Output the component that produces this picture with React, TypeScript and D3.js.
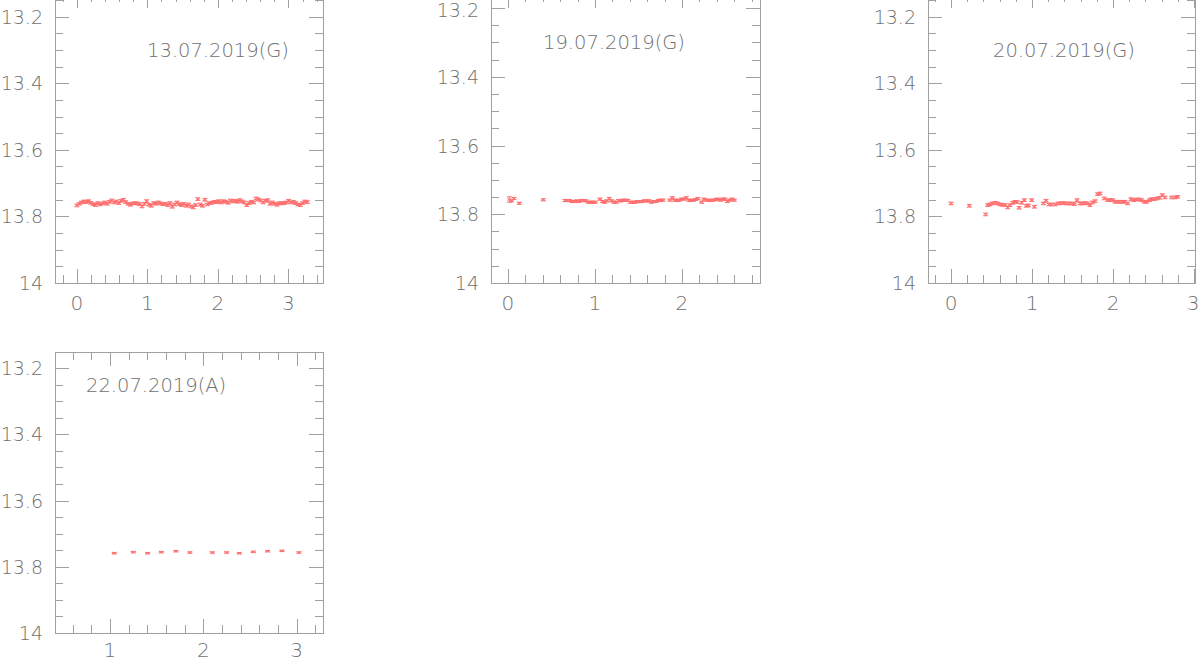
import React from 'react';
import * as d3 from 'd3';

// ---------------- data ----------------
const p1X = [0, 0.033, 0.066, 0.099, 0.132, 0.165, 0.198, 0.231, 0.264, 0.297,
  0.33, 0.363, 0.396, 0.429, 0.462, 0.495, 0.528, 0.561, 0.594, 0.627,
  0.66, 0.693, 0.726, 0.759, 0.792, 0.825, 0.858, 0.891, 0.924, 0.957,
  0.99, 1.023, 1.056, 1.089, 1.122, 1.155, 1.188, 1.221, 1.254, 1.287,
  1.32, 1.353, 1.386, 1.419, 1.452, 1.485, 1.518, 1.551, 1.584, 1.617,
  1.65, 1.683, 1.716, 1.749, 1.782, 1.815, 1.848, 1.881, 1.914, 1.947,
  1.98, 2.013, 2.046, 2.079, 2.112, 2.145, 2.178, 2.211, 2.244, 2.277,
  2.31, 2.343, 2.376, 2.409, 2.442, 2.475, 2.508, 2.541, 2.574, 2.607,
  2.64, 2.673, 2.706, 2.739, 2.772, 2.805, 2.838, 2.871, 2.904, 2.937,
  2.97, 3.003, 3.036, 3.069, 3.102, 3.135, 3.168, 3.201, 3.234, 3.267];
const p1Y = [13.767, 13.762, 13.758, 13.755, 13.757, 13.754, 13.759, 13.763, 13.766, 13.760,
  13.764, 13.761, 13.758, 13.762, 13.756, 13.752, 13.758, 13.755, 13.760, 13.753,
  13.750, 13.757, 13.762, 13.765, 13.761, 13.760, 13.761, 13.763, 13.770, 13.762,
  13.754, 13.765, 13.768, 13.760, 13.762, 13.758, 13.761, 13.763, 13.762, 13.766,
  13.760, 13.771, 13.764, 13.758, 13.763, 13.766, 13.762, 13.768, 13.764, 13.770,
  13.773, 13.766, 13.748, 13.764, 13.768, 13.750, 13.764, 13.760, 13.759, 13.756,
  13.757, 13.754, 13.758, 13.754, 13.756, 13.759, 13.752, 13.755, 13.753, 13.756,
  13.751, 13.755, 13.758, 13.766, 13.760, 13.756, 13.758, 13.746, 13.749, 13.752,
  13.758, 13.753, 13.751, 13.762, 13.758, 13.762, 13.765, 13.760, 13.761, 13.760,
  13.758, 13.753, 13.758, 13.756, 13.760, 13.764, 13.766, 13.760, 13.755, 13.757];
const p1Err = [0.004];

const p2X = [0.015, 0.042, 0.069, 0.13, 0.406,
  0.655, 0.682, 0.709, 0.736, 0.762, 0.789, 0.816, 0.843, 0.87, 0.897, 0.923, 0.95, 0.977, 1.004,
  1.057, 1.084, 1.111, 1.138, 1.165, 1.192, 1.218, 1.245, 1.272, 1.299,
  1.326, 1.352, 1.379, 1.406, 1.433, 1.46, 1.487, 1.513, 1.54, 1.567,
  1.594, 1.621, 1.648, 1.674, 1.701, 1.728, 1.755, 1.782,
  1.862, 1.889, 1.916, 1.943, 1.969, 1.996, 2.023, 2.05, 2.077, 2.103,
  2.13, 2.157, 2.184, 2.226, 2.253, 2.28, 2.307, 2.333, 2.36, 2.387,
  2.414, 2.441, 2.468, 2.494, 2.521, 2.548, 2.575, 2.602];
const p2Y = [13.757, 13.761, 13.754, 13.768, 13.758,
  13.760, 13.760, 13.760, 13.763, 13.763, 13.761, 13.763, 13.760, 13.760, 13.761, 13.765, 13.765, 13.765, 13.765,
  13.756, 13.763, 13.765, 13.761, 13.754, 13.761, 13.765, 13.765, 13.760, 13.761,
  13.759, 13.759, 13.760, 13.765, 13.765, 13.765, 13.763, 13.763, 13.763, 13.761,
  13.761, 13.761, 13.765, 13.763, 13.763, 13.760, 13.759, 13.759,
  13.759, 13.752, 13.759, 13.760, 13.759, 13.756, 13.756, 13.752, 13.759, 13.760,
  13.759, 13.757, 13.754, 13.765, 13.756, 13.759, 13.759, 13.760, 13.759, 13.757,
  13.756, 13.759, 13.756, 13.756, 13.763, 13.759, 13.756, 13.759];
const p2Err = [0.008, 0.003];

const p3X = [0, 0.226, 0.428, 0.453, 0.481, 0.51, 0.543, 0.576, 0.605, 0.634,
  0.667, 0.7, 0.728, 0.761, 0.79, 0.815, 0.84, 0.872, 0.905, 0.93,
  0.955, 0.996, 1.029, 1.14, 1.173, 1.21, 1.243, 1.284, 1.325, 1.358,
  1.391, 1.424, 1.457, 1.49, 1.523, 1.556, 1.593, 1.621, 1.654, 1.687,
  1.716, 1.745, 1.778, 1.811, 1.84, 1.893, 1.934, 1.963, 1.996, 2.025,
  2.058, 2.086, 2.119, 2.148, 2.181, 2.222, 2.255, 2.288, 2.321, 2.354,
  2.387, 2.416, 2.449, 2.477, 2.51, 2.543, 2.576, 2.609, 2.642, 2.724,
  2.765, 2.798];
const p3Y = [13.761, 13.768, 13.794, 13.766, 13.764, 13.761, 13.759, 13.761, 13.764, 13.765,
  13.766, 13.773, 13.766, 13.759, 13.756, 13.757, 13.774, 13.759, 13.751, 13.768,
  13.767, 13.751, 13.771, 13.761, 13.753, 13.764, 13.764, 13.764, 13.761, 13.760,
  13.760, 13.761, 13.761, 13.761, 13.763, 13.751, 13.761, 13.761, 13.760, 13.761,
  13.766, 13.758, 13.754, 13.733, 13.731, 13.746, 13.751, 13.751, 13.751, 13.756,
  13.756, 13.756, 13.756, 13.756, 13.761, 13.748, 13.751, 13.749, 13.749, 13.751,
  13.756, 13.756, 13.751, 13.748, 13.748, 13.746, 13.744, 13.736, 13.743, 13.743,
  13.743, 13.741];
const p3Err = [0.004];

const p4X = [1.046, 1.25, 1.404, 1.55, 1.707, 1.857, 2.097, 2.25, 2.386, 2.536, 2.69, 2.843, 3.025];
const p4Y = [13.759, 13.756, 13.759, 13.756, 13.753, 13.757, 13.757, 13.757, 13.759, 13.755, 13.753, 13.752, 13.757];
const p4Err = [0.002];

const panelTitles = ['13.07.2019(G)', '19.07.2019(G)', '20.07.2019(G)', '22.07.2019(A)'];
const yTickValues = [13.2, 13.4, 13.6, 13.8, 14];
const yTickLabels = ['13.2', '13.4', '13.6', '13.8', '14'];
const xTickValues = [0, 1, 2, 3];
const xTickLabels = ['0', '1', '2', '3'];

// ---------------- style ----------------
const FRAME = '#a0a0a0';
const TEXT = '#6f6f6f';
const RED = '#ff6b6b';
const FONT = '"DejaVu Sans", "Liberation Sans", sans-serif';

type Layout = {
  left: number; right: number; top: number; bottom: number;
  xDomain: [number, number]; yTop: number; // pixel of 13.2
  titleX: number; titleY: number;
};

const layouts: Layout[] = [
  { left: 55, right: 323, top: -6, bottom: 283, xDomain: [-0.31, 3.49], yTop: 16.7, titleX: 147, titleY: 57 },
  { left: 491, right: 760, top: -6, bottom: 283, xDomain: [-0.195, 2.897], yTop: 8, titleX: 543, titleY: 49 },
  { left: 928, right: 1195, top: -6, bottom: 283, xDomain: [-0.284, 3.012], yTop: 16.7, titleX: 993, titleY: 57 },
  { left: 55, right: 323, top: 352, bottom: 633, xDomain: [0.411, 3.283], yTop: 368, titleX: 86, titleY: 392 },
];

const series = [
  { xs: p1X, ys: p1Y, err: p1Err },
  { xs: p2X, ys: p2Y, err: p2Err },
  { xs: p3X, ys: p3Y, err: p3Err },
  { xs: p4X, ys: p4Y, err: p4Err },
];

function Panel({ L, s, title }: { L: Layout; s: { xs: number[]; ys: number[]; err: number[] }; title: string }) {
  const x = d3.scaleLinear().domain(L.xDomain).range([L.left, L.right]);
  const y = d3.scaleLinear().domain([13.2, 14]).range([L.yTop, L.bottom]);
  const yMinor = d3.range(250, 281).map((i) => i / 20).filter((v) => y(v) > L.top + 0.5 && y(v) < L.bottom - 0.5);
  const xMinor = d3.range(-10, 25).map((i) => i / 5).filter((v) => x(v) > L.left + 0.5 && x(v) < L.right - 0.5);
  const isMajorY = (v: number) => Math.abs(v * 5 - Math.round(v * 5)) < 1e-6;
  const isMajorX = (v: number) => Math.abs(v - Math.round(v)) < 1e-6;
  const MAJ = 14, MIN = 8;
  const n = Math.min(s.xs.length, s.ys.length);
  const pts = d3.range(n).map((i) => ({ x: s.xs[i], y: s.ys[i], e: i === 0 ? s.err[0] : s.err[s.err.length - 1] }));
  return (
    <g>
      <rect x={L.left + 0.5} y={L.top + 0.5} width={L.right - L.left} height={L.bottom - L.top} fill="none" stroke={FRAME} strokeWidth={1} />
      {yMinor.map((v, i) => {
        const len = isMajorY(v) ? MAJ : MIN;
        const yy = Math.round(y(v)) + 0.5;
        return (
          <g key={'y' + i}>
            <line x1={L.left} x2={L.left + len} y1={yy} y2={yy} stroke={FRAME} />
            <line x1={L.right} x2={L.right - len} y1={yy} y2={yy} stroke={FRAME} />
          </g>
        );
      })}
      {xMinor.map((v, i) => {
        const len = isMajorX(v) ? MAJ : MIN;
        const xx = Math.round(x(v)) + 0.5;
        return (
          <g key={'x' + i}>
            <line x1={xx} x2={xx} y1={L.bottom} y2={L.bottom - len} stroke={FRAME} />
            <line x1={xx} x2={xx} y1={L.top} y2={L.top + len} stroke={FRAME} />
          </g>
        );
      })}
      {yTickValues.map((v, i) => (
        <text key={'yl' + i} x={L.left - 12} y={Math.max(y(v) + 7, 17)} textAnchor="end" fontSize={19} fill={TEXT} fontFamily={FONT} fontWeight={300}>
          {yTickLabels[i]}
        </text>
      ))}
      {xTickValues.filter((v) => x(v) >= L.left - 1 && x(v) <= L.right + 1).map((v, i) => (
        <text key={'xl' + i} x={Math.min(x(v), 1193)} y={Math.min(L.bottom + 27, 657)} textAnchor="middle" fontSize={20} fill={TEXT} fontFamily={FONT} fontWeight={300}>
          {xTickLabels[xTickValues.indexOf(v)]}
        </text>
      ))}
      <text x={L.titleX} y={L.titleY} fontSize={19.5} fill={TEXT} fontFamily={FONT} fontWeight={300}>{title}</text>
      <g stroke={RED} strokeWidth={0.9} fill="none">
        {pts.map((p, i) => {
          const cx = x(p.x), cy = y(p.y);
          const y1 = y(p.y - p.e), y2 = y(p.y + p.e);
          const c = 2.5, r = 2;
          return (
            <g key={'p' + i}>
              <line x1={cx} x2={cx} y1={y1} y2={y2} />
              <line x1={cx - c} x2={cx + c} y1={y1} y2={y1} />
              <line x1={cx - c} x2={cx + c} y1={y2} y2={y2} />
              <line x1={cx - r} x2={cx + r} y1={cy + r * 0.6} y2={cy - r * 0.6} />
              <line x1={cx - r} x2={cx + r} y1={cy - r * 0.6} y2={cy + r * 0.6} />
            </g>
          );
        })}
      </g>
    </g>
  );
}

export default function App() {
  return (
    <svg width={1200} height={662} style={{ position: 'absolute', left: 0, top: 0, background: '#fff' }}>
      <rect x={0} y={0} width={1200} height={662} fill="#fff" />
      {layouts.map((L, i) => (
        <Panel key={i} L={L} s={series[i]} title={panelTitles[i]} />
      ))}
    </svg>
  );
}
